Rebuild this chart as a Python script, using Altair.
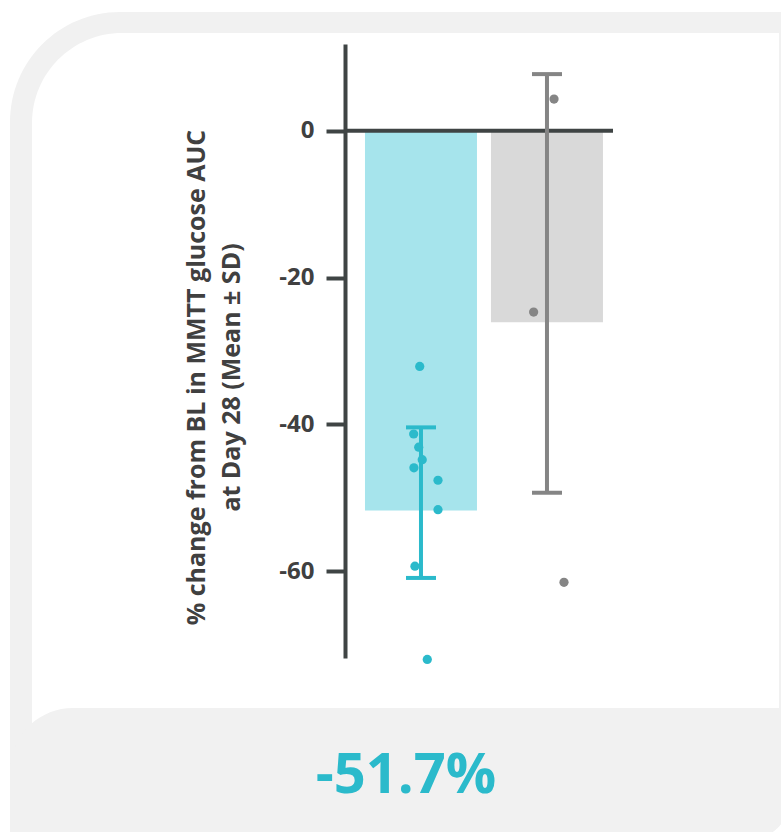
import altair as alt
import pandas as pd

# ---- data -------------------------------------------------------------
groups = ["treated", "control"]
group_pos = [0, 1]
bar_means = [-51.7, -26.1]
err_low = [-60.9, -49.3]
err_high = [-40.4, 7.7]

treated_vals = [-32.1, -41.3, -43.1, -44.8, -45.9, -47.6, -51.6, -59.3, -72.0]
treated_jitter = [-0.01, -0.058, -0.018, 0.01, -0.056, 0.135, 0.135, -0.048, 0.05]
control_vals = [4.3, -24.7, -61.5]
control_jitter = [0.056, -0.106, 0.135]

y_ticks = [-60, -40, -20, 0]
y_title = ["% change from BL in MMTT glucose AUC", "at Day 28 (Mean \u00b1 SD)"]

bar_colors = ["#a6e4ec", "#d9d9d9"]
mark_colors = ["#2bbacb", "#858585"]
axis_color = "#3f4444"
text_color = "#404040"
panel_grey = "#f1f1f1"
FONT = "Open Sans"

# ---- tables -----------------------------------------------------------
bars = pd.DataFrame({
    "group": groups, "pos": group_pos, "mean": bar_means, "base": [0, 0],
    "lo": err_low, "hi": err_high,
})
points = pd.DataFrame({
    "group": ["treated"] * len(treated_vals) + ["control"] * len(control_vals),
    "pos": [group_pos[0] + j for j in treated_jitter] + [group_pos[1] + j for j in control_jitter],
    "value": treated_vals + control_vals,
})

W, H = 268, 614
x_scale = alt.Scale(domain=[-0.603, 1.524], nice=False, zero=False, padding=0)
y_scale = alt.Scale(domain=[-71.8, 11.8], nice=False, zero=False, padding=0)
bar_color = alt.Color("group:N", scale=alt.Scale(domain=groups, range=bar_colors), legend=None)
mark_color = alt.Color("group:N", scale=alt.Scale(domain=groups, range=mark_colors), legend=None)

one = pd.DataFrame({"k": [0]})

# ---- panel background -------------------------------------------------
outer = alt.Chart(one).mark_rect(
    color=panel_grey, cornerRadiusTopLeft=110, cornerRadiusBottomRight=35
).encode(x=alt.value(-335), x2=alt.value(443), y=alt.value(-32), y2=alt.value(794))
inner = alt.Chart(one).mark_rect(color="#ffffff", cornerRadiusTopLeft=90).encode(
    x=alt.value(-313), x2=alt.value(434), y=alt.value(-11), y2=alt.value(700))
footer = alt.Chart(one).mark_rect(
    color=panel_grey, cornerRadiusTopLeft=63, cornerRadiusBottomRight=35
).encode(x=alt.value(-335), x2=alt.value(443), y=alt.value(664), y2=alt.value(794))

headline = alt.Chart(pd.DataFrame({"v": [bar_means[0]]})).transform_calculate(
    label="toString(datum.v) + '%'"
).mark_text(font=FONT, fontSize=56, fontWeight="bold", color=mark_colors[0],
            align="center", baseline="middle").encode(
    x=alt.value(61), y=alt.value(732), text="label:N")

# ---- chart ------------------------------------------------------------
bar_layer = alt.Chart(bars).mark_bar(size=112).encode(
    x=alt.X("pos:Q", scale=x_scale, axis=None),
    y=alt.Y("mean:Q", scale=y_scale, axis=alt.Axis(
        values=y_ticks, title=y_title, labelExpr="toString(datum.value)",
        titleX=-149, titleY=333, titleBaseline="middle", titleAlign="center",
        titleLineHeight=35, zindex=1)),
    y2="base:Q",
    color=bar_color,
)

zero_line = alt.Chart(one).mark_rule(color=axis_color, strokeWidth=4).encode(
    x=alt.value(0), x2=alt.value(W), y=alt.Y(datum=0, scale=y_scale))

err_line = alt.Chart(bars).mark_rule(strokeWidth=4, opacity=1).encode(
    x=alt.X("pos:Q", scale=x_scale), y="lo:Q", y2="hi:Q", color=mark_color)
cap_hi = alt.Chart(bars).mark_tick(orient="horizontal", size=30, thickness=4, opacity=1).encode(
    x=alt.X("pos:Q", scale=x_scale), y="hi:Q", color=mark_color)
cap_lo = alt.Chart(bars).mark_tick(orient="horizontal", size=30, thickness=4, opacity=1).encode(
    x=alt.X("pos:Q", scale=x_scale), y="lo:Q", color=mark_color)

dots = alt.Chart(points).mark_circle(size=85, opacity=1).encode(
    x=alt.X("pos:Q", scale=x_scale), y=alt.Y("value:Q", scale=y_scale), color=mark_color)

chart = alt.layer(
    outer, inner, footer, headline, bar_layer, zero_line, err_line, cap_hi, cap_lo, dots
).resolve_scale(color="independent").properties(
    width=W, height=H,
    padding={"left": 345, "top": 44, "right": 168, "bottom": 174},
    autosize=alt.AutoSizeParams(type="none"),
    background="#ffffff",
).configure_view(stroke=None).configure_axis(
    grid=False,
    domainColor=axis_color, domainWidth=4, domainCap="butt",
    tickColor=axis_color, tickWidth=4, tickSize=19,
    labelFont=FONT, labelFontSize=24, labelFontWeight="bold", labelColor=text_color,
    labelPadding=12,
    titleFont=FONT, titleFontSize=25, titleFontWeight="bold", titleColor=text_color,
)

chart.save("out.html", embed_options={"renderer": "svg", "actions": False})
